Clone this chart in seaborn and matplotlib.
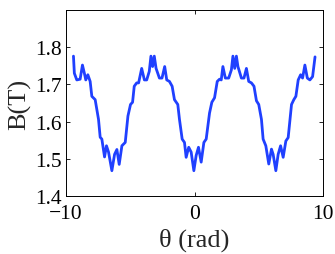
import numpy as np
import pandas as pd
import matplotlib
matplotlib.use("Agg")
import matplotlib.pyplot as plt
import seaborn as sns

theta = [-9.42, -9.35, -9.16, -8.90, -8.72, -8.57, -8.46, -8.30, -8.12, -7.99,
         -7.73, -7.47, -7.34, -7.21, -7.00, -6.85, -6.69, -6.43, -6.22, -6.04,
         -5.86, -5.65, -5.39, -5.18, -4.98, -4.82, -4.69, -4.50, -4.35, -4.11,
         -3.90, -3.72, -3.52, -3.39, -3.26, -3.13, -2.99, -2.73, -2.53, -2.32,
         -2.16, -1.95, -1.74, -1.56, -1.30, -1.17, -0.96, -0.78, -0.65, -0.45,
         -0.26, -0.05, 0.13, 0.31, 0.52, 0.73, 0.91, 1.17, 1.35, 1.56,
         1.77, 1.95, 2.08, 2.21, 2.40, 2.66, 2.87, 2.99, 3.13, 3.26,
         3.38, 3.65, 3.85, 4.04, 4.22, 4.43, 4.63, 4.82, 5.00, 5.21,
         5.34, 5.55, 5.78, 5.99, 6.12, 6.33, 6.51, 6.70, 6.90, 7.11,
         7.29, 7.55, 7.73, 7.89, 8.07, 8.26, 8.41, 8.59, 8.78, 8.98,
         9.19, 9.38]
B = [1.776, 1.730, 1.712, 1.714, 1.752, 1.730, 1.712, 1.726, 1.708, 1.668,
     1.659, 1.606, 1.558, 1.553, 1.505, 1.535, 1.518, 1.468, 1.512, 1.525,
     1.485, 1.535, 1.544, 1.615, 1.646, 1.652, 1.695, 1.704, 1.704, 1.743,
     1.712, 1.712, 1.735, 1.776, 1.748, 1.776, 1.743, 1.717, 1.717, 1.748,
     1.712, 1.708, 1.695, 1.659, 1.646, 1.606, 1.553, 1.544, 1.504, 1.531,
     1.518, 1.468, 1.509, 1.531, 1.491, 1.544, 1.553, 1.623, 1.652, 1.664,
     1.708, 1.714, 1.712, 1.748, 1.717, 1.717, 1.739, 1.776, 1.743, 1.776,
     1.748, 1.717, 1.717, 1.743, 1.708, 1.704, 1.695, 1.656, 1.646, 1.606,
     1.553, 1.535, 1.486, 1.526, 1.512, 1.468, 1.512, 1.535, 1.504, 1.548,
     1.557, 1.646, 1.659, 1.668, 1.712, 1.726, 1.717, 1.752, 1.717, 1.712,
     1.721, 1.774]

x_ticks = [-10, 0, 10]
y_ticks = [1.4, 1.5, 1.6, 1.7, 1.8]

sns.set_style("ticks")
plt.rcParams['font.family'] = ['Liberation Serif', 'DejaVu Serif']

df = pd.DataFrame({"theta": theta, "B": B})

fig = plt.figure(figsize=(3.35, 2.55), dpi=100)
ax = fig.add_axes([66/335, 1 - 197/255, (323 - 66)/335, (197 - 11)/255])
sns.lineplot(data=df, x="theta", y="B", ax=ax, color="#2040ff", linewidth=2.0,
             sort=False, estimator=None)

ax.set_xlim(-10, 10)
ax.set_ylim(1.4, 1.9)
ax.set_xticks(x_ticks)
ax.set_yticks(y_ticks)
ax.set_xticklabels([f"{t}".replace("-", "\u2212") for t in x_ticks])
ax.set_yticklabels([f"{t:.1f}" for t in y_ticks])
ax.tick_params(direction="in", length=3, width=0.6, labelsize=15.5,
               top=True, right=True, colors="black")
ax.tick_params(axis="x", pad=6)
ax.tick_params(axis="y", pad=3)
for s in ax.spines.values():
    s.set_visible(True)
    s.set_linewidth(0.7)
    s.set_color("black")
ax.set_xlabel("θ (rad)", fontsize=19, labelpad=0)
ax.set_ylabel("B(T)", fontsize=19, labelpad=4)
ax.xaxis.set_label_coords(0.5, (197 - 240) / 186, transform=ax.transAxes)
ax.xaxis.label.set_va("center")
ax.yaxis.set_label_coords((20 - 66) / 257, 0.5, transform=ax.transAxes)
ax.yaxis.label.set_va("center")

fig.savefig("out.png", dpi=100)
